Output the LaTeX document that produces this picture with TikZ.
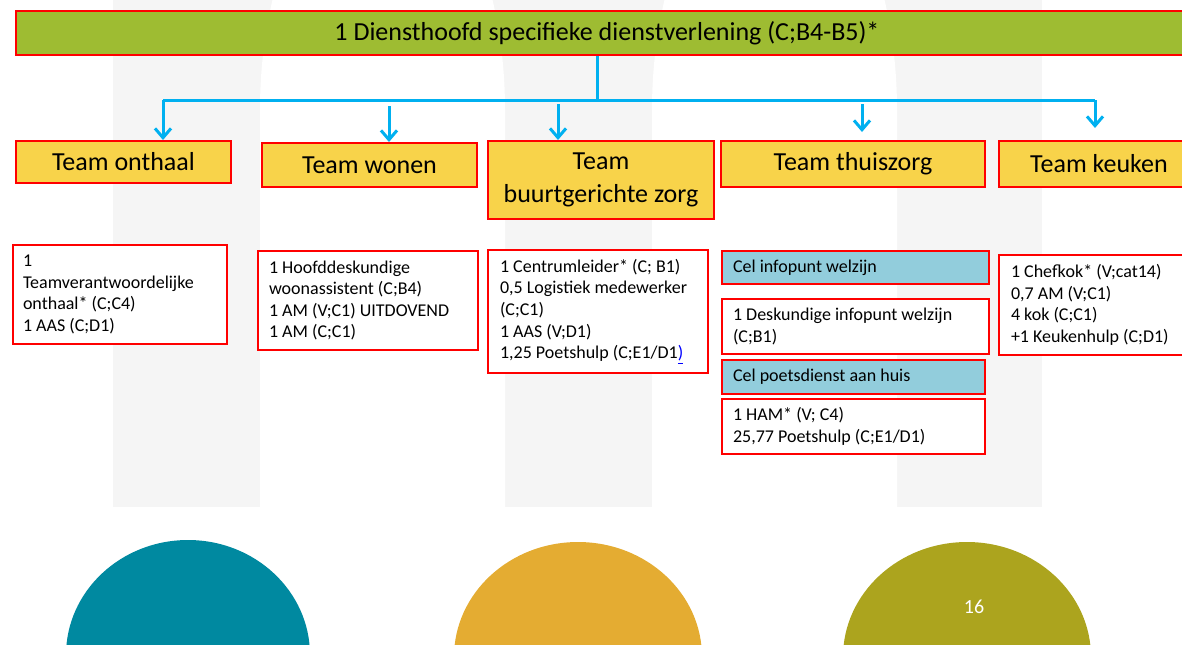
\documentclass[tikz,border=0pt]{standalone}
\usepackage{fontspec}
\setmainfont{Carlito}
\usetikzlibrary{arrows.meta}

\definecolor{bggray}{RGB}{245,245,245}
\definecolor{bargreen}{RGB}{158,188,50}
\definecolor{teamyellow}{RGB}{248,211,74}
\definecolor{celblue}{RGB}{146,205,220}
\definecolor{boxred}{RGB}{255,0,0}
\definecolor{lineblue}{RGB}{0,176,240}
\definecolor{tealc}{RGB}{0,137,160}
\definecolor{orangec}{RGB}{228,172,50}
\definecolor{olivec}{RGB}{172,164,30}

\newcommand{\teamfont}{\fontsize{19.5}{24.5}\selectfont}
\newcommand{\bodyfont}{\fontsize{13.5}{16.2}\selectfont}

\begin{document}
\begin{tikzpicture}[x=0.75pt, y=-0.75pt, >={Straight Barb[length=7pt,width=12pt]},
    box/.style={draw=boxred, line width=1.5pt, anchor=north west, inner sep=0pt},
    teambox/.style={box, fill=teamyellow, font=\teamfont, align=center},
    detail/.style={box, fill=white, font=\bodyfont, align=flush left},
    celbox/.style={detail, fill=celblue},
    conn/.style={draw=lineblue, line width=2.25pt}]
    % 画布
    \useasboundingbox (0,0) rectangle (1182,644);
    \clip (0,0) rectangle (1182,644);

    % 背景
    \fill[bggray] (113,0) rectangle (1042,507);
    \fill[white] (260,507) -- (260,110) arc[start angle=180, end angle=360, x radius=122.5, y radius=250] -- (505,507) -- cycle;
    \fill[white] (652,507) -- (652,110) arc[start angle=180, end angle=360, x radius=122.5, y radius=250] -- (897,507) -- cycle;
    \fill[tealc] (188,655) ellipse [x radius=122, y radius=115];
    \fill[orangec] (578,657) ellipse [x radius=124, y radius=115];
    \fill[olivec] (967,657) ellipse [x radius=124, y radius=115];
    \node[text=white, font=\fontsize{15}{18}\selectfont] (pagenr) at (974,607) {16};

    % 标题
    \node[box, fill=bargreen, minimum width=886.5pt, minimum height=33pt, font=\teamfont] (head) at (15,10)
        {1 Diensthoofd specifieke dienstverlening (C;B4-B5)*};

    % 团队
    \node[teambox, minimum width=161.25pt, minimum height=31.5pt] (tOnthaal) at (15,140) {Team onthaal};
    \node[teambox, minimum width=161.25pt, minimum height=33pt] (tWonen) at (261,142) {Team wonen};
    \node[teambox, minimum width=169.5pt, minimum height=58.5pt] (tBuurt) at (487,140) {Team\\buurtgerichte zorg};
    \node[teambox, minimum width=198pt, minimum height=34.5pt] (tThuis) at (720,140) {Team thuiszorg};
    \node[teambox, minimum width=150pt, minimum height=34.5pt] (tKeuken) at (998,140) {Team keuken};

    % 连线
    \coordinate (split) at (597,100);
    \coordinate (lineL) at (163,100);
    \coordinate (lineR) at (1095,100);
    \coordinate (aWonen) at (389,106);
    \coordinate (aBuurt) at (558,104);
    \coordinate (aThuis) at (862,104);
    \draw[conn] (head.south -| split) -- (split);
    \draw[conn] (lineL) -- (lineR);
    \draw[conn,->] (lineL) -- (lineL |- tOnthaal.north);
    \draw[conn,->] (aWonen) -- (aWonen |- tWonen.north);
    \draw[conn,->] (aBuurt) -- (aBuurt |- tBuurt.north);
    \draw[conn,->,shorten >=6pt] (aThuis) -- (aThuis |- tThuis.north);
    \draw[conn,->,shorten >=9pt] (lineR) -- (lineR |- tKeuken.north);

    % 人员
    \node[detail, inner xsep=7.5pt, text width=145.5pt, minimum height=74.25pt] (dOnthaal) at (12,244)
        {1\\Teamverantwoordelijke\\onthaal* (C;C4)\\1 AAS (C;D1)};
    \node[detail, inner xsep=8.25pt, text width=148.5pt, minimum height=74.25pt] (dWonen) at (257,250)
        {1 Hoofddeskundige\\woonassistent (C;B4)\\1 AM (V;C1) UITDOVEND\\1 AM (C;C1)};
    \node[detail, inner xsep=9pt, text width=147pt, minimum height=92.25pt] (dBuurt) at (487,249)
        {1 Centrumleider* (C; B1)\\0,5 Logistiek medewerker\\(C;C1)\\1 AAS (V;D1)\\1,25 Poetshulp (C;E1/D1\textcolor{blue}{\underline{)}}};
    \node[celbox, inner xsep=8.25pt, text width=183.75pt, minimum height=24.75pt] (cInfo) at (721,250)
        {Cel infopunt welzijn};
    \node[detail, inner xsep=8.25pt, text width=183.75pt, minimum height=41.25pt] (dInfo) at (721,298)
        {1 Deskundige infopunt welzijn\\(C;B1)};
    \node[celbox, inner xsep=8.25pt, text width=180.75pt, minimum height=25.5pt] (cPoets) at (721,359)
        {Cel poetsdienst aan huis};
    \node[detail, inner xsep=8.25pt, text width=180.75pt, minimum height=41.25pt] (dPoets) at (721,398)
        {1 HAM* (V; C4)\\25,77 Poetshulp (C;E1/D1)};
    \node[detail, inner xsep=9pt, text width=132pt, minimum height=75pt] (dKeuken) at (998,254)
        {1 Chefkok* (V;cat14)\\0,7 AM (V;C1)\\4 kok (C;C1)\\+1 Keukenhulp (C;D1)};
\end{tikzpicture}
\end{document}
